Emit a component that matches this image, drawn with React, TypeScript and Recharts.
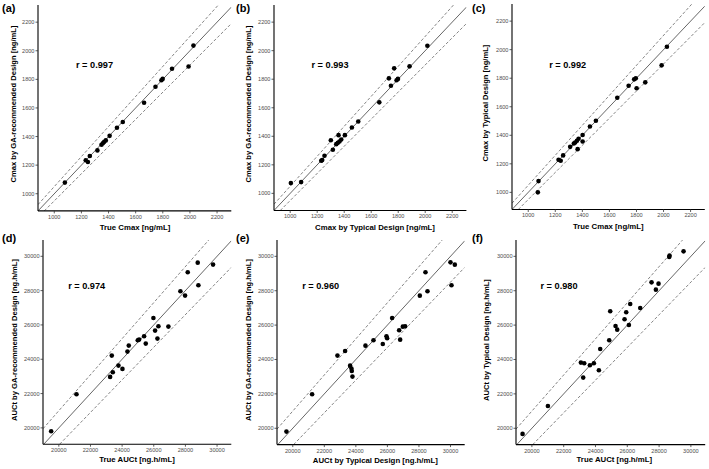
import React from 'react';
import { ScatterChart, Scatter, XAxis, YAxis, ReferenceLine } from 'recharts';

// Cmax [ng/mL]
const aTrueCmax = [1078, 1232, 1248, 1262, 1318, 1348, 1358, 1368, 1380, 1408, 1462, 1505, 1662, 1746, 1790, 1799, 1868, 1990, 2026];
const aGaCmax = [1078, 1234, 1222, 1264, 1303, 1343, 1353, 1363, 1373, 1405, 1461, 1502, 1636, 1748, 1794, 1803, 1874, 1890, 2036];

const bTypicalCmax = [1005, 1081, 1230, 1237, 1254, 1301, 1316, 1358, 1341, 1353, 1365, 1378, 1405, 1457, 1504, 1660, 1746, 1731, 1770, 1788, 1798, 1884, 2016];
const bGaCmax = [1072, 1079, 1229, 1233, 1264, 1372, 1306, 1408, 1345, 1354, 1364, 1378, 1408, 1462, 1504, 1638, 1754, 1806, 1876, 1793, 1802, 1890, 2034];

const cTrueCmax = [1076, 1071, 1224, 1240, 1258, 1310, 1337, 1347, 1360, 1372, 1365, 1402, 1402, 1456, 1500, 1658, 1742, 1783, 1795, 1801, 1865, 1986, 2025];
const cTypicalCmax = [1079, 1000, 1229, 1222, 1259, 1319, 1343, 1350, 1362, 1376, 1303, 1402, 1357, 1462, 1502, 1663, 1747, 1792, 1799, 1730, 1771, 1890, 2020];

// AUCt [ng.h/mL]
const dTrueAuc = [29747, 28779, 28147, 28821, 27684, 27979, 25979, 26295, 26084, 26926, 26232, 25389, 25074, 24989, 25495, 24421, 24337, 23347, 23768, 24021, 23411, 23242, 21116, 19516];
const dGaAuc = [29515, 29631, 29068, 28311, 27961, 27709, 26408, 25922, 25670, 25903, 25204, 25340, 25146, 25107, 24913, 24796, 24447, 24213, 23631, 23437, 23243, 22971, 21961, 19806];

const eTypicalAuc = [30000, 30275, 28414, 30063, 28541, 28055, 26300, 27125, 26977, 26744, 26808, 25941, 25983, 25708, 25116, 24609, 23319, 22833, 23636, 23721, 23742, 23784, 21226, 19598];
const eGaAuc = [29651, 29515, 29070, 28314, 27965, 27713, 26415, 25930, 25911, 25698, 25155, 25349, 25233, 24903, 25116, 24806, 24496, 24225, 23643, 23469, 23333, 23004, 21977, 19806];

const fTrueAuc = [29539, 28658, 28637, 27526, 27966, 27799, 26813, 26184, 24927, 25933, 25828, 26101, 25262, 25367, 24864, 24298, 23082, 23291, 23648, 23899, 24214, 23228, 21006, 19413];
const fTypicalAuc = [30291, 30039, 29961, 28488, 28411, 28062, 26996, 27229, 26802, 26744, 26337, 26008, 25950, 25736, 25116, 24612, 23818, 23779, 23663, 23779, 23372, 22946, 21298, 19671];

const cmaxTicks = [1000, 1200, 1400, 1600, 1800, 2000, 2200];
const aucTicks = [20000, 22000, 24000, 26000, 28000, 30000];

const cmaxX: [number, number] = [880, 2305];
const cmaxY: [number, number] = [880, 2320];
const aucX: [number, number] = [19000, 30900];
const aucY: [number, number] = [19050, 30950];

// identity and +/-5% lines
const bandFactors = [1, 1.05, 0.95];

const FONT = '"Liberation Sans", Arial, sans-serif';

const zip = (xs: number[], ys: number[]) => xs.map((x, i) => ({ x, y: ys[i] }));

const segmentFor = (k: number, dx: [number, number], dy: [number, number]) => {
  const xs = Math.max(dx[0], dy[0] / k);
  const xe = Math.min(dx[1], dy[1] / k);
  return [{ x: xs, y: k * xs }, { x: xe, y: k * xe }];
};

const Dot = (props: any) => <circle cx={props.cx} cy={props.cy} r={2.3} fill="#000" />;

type PanelProps = {
  box: { l: number; t: number; w: number; h: number };
  dx: [number, number];
  dy: [number, number];
  ticks: number[];
  data: { x: number; y: number }[];
  letter: string;
  letterPos: [number, number];
  r: string;
  rPos: [number, number];
  xTitle: string;
  xTitlePos: [number, number];
  yTitle: string;
  yTitlePos: [number, number];
};

const YW = 36;
const MT = 4;
const MR = 4;
const XH = 14;

const Panel = (p: PanelProps) => {
  const { box } = p;
  const tickStyle = { fontSize: 5.6, fill: '#4d4d4d', fontFamily: FONT };
  return (
    <>
      <div style={{ position: 'absolute', left: box.l - YW, top: box.t - MT }}>
        <ScatterChart
          width={YW + box.w + MR}
          height={MT + box.h + XH}
          margin={{ top: MT, right: MR, left: 0, bottom: 0 }}
        >
          <XAxis
            type="number"
            dataKey="x"
            domain={p.dx}
            allowDataOverflow
            ticks={p.ticks}
            interval={0}
            height={XH}
            tick={tickStyle}
            tickSize={2.5}
            tickMargin={1.5}
            axisLine={{ stroke: '#000', strokeWidth: 1.1 }}
            tickLine={{ stroke: '#333', strokeWidth: 0.8 }}
          />
          <YAxis
            type="number"
            dataKey="y"
            domain={p.dy}
            allowDataOverflow
            ticks={p.ticks}
            interval={0}
            width={YW}
            tick={tickStyle}
            tickSize={2.5}
            tickMargin={1}
            axisLine={{ stroke: '#000', strokeWidth: 1.1 }}
            tickLine={{ stroke: '#333', strokeWidth: 0.8 }}
          />
          {bandFactors.map((k) => (
            <ReferenceLine
              key={k}
              segment={segmentFor(k, p.dx, p.dy)}
              stroke={k === 1 ? '#555' : '#666'}
              strokeWidth={k === 1 ? 0.9 : 0.8}
              strokeDasharray={k === 1 ? undefined : '3 2'}
              ifOverflow="hidden"
            />
          ))}
          <Scatter data={p.data} shape={Dot} isAnimationActive={false} />
        </ScatterChart>
      </div>
      <div style={{ position: 'absolute', left: p.letterPos[0], top: p.letterPos[1], fontSize: 11, fontWeight: 'bold', fontFamily: FONT, lineHeight: 1 }}>
        {p.letter}
      </div>
      <div style={{ position: 'absolute', left: p.rPos[0], top: p.rPos[1], transform: 'translate(-50%, -50%)', fontSize: 9.2, fontWeight: 'bold', fontFamily: FONT, whiteSpace: 'nowrap', lineHeight: 1 }}>
        {p.r}
      </div>
      <div style={{ position: 'absolute', left: p.xTitlePos[0], top: p.xTitlePos[1], transform: 'translate(-50%, -50%)', fontSize: 7.8, fontWeight: 'bold', fontFamily: FONT, whiteSpace: 'nowrap', lineHeight: 1 }}>
        {p.xTitle}
      </div>
      <div style={{ position: 'absolute', left: p.yTitlePos[0], top: p.yTitlePos[1], transform: 'translate(-50%, -50%) rotate(-90deg)', fontSize: 7.6, fontWeight: 'bold', fontFamily: FONT, whiteSpace: 'nowrap', lineHeight: 1 }}>
        {p.yTitle}
      </div>
    </>
  );
};

export default function App() {
  return (
    <div style={{ position: 'absolute', left: 0, top: 0, width: 709, height: 469, background: '#fff', overflow: 'hidden' }}>
      <Panel
        box={{ l: 38, t: 5.3, w: 193.3, h: 205.9 }}
        dx={cmaxX}
        dy={cmaxY}
        ticks={cmaxTicks}
        data={zip(aTrueCmax, aGaCmax)}
        letter="(a)"
        letterPos={[2, 3]}
        r="r = 0.997"
        rPos={[94.5, 66]}
        xTitle="True Cmax [ng/mL]"
        xTitlePos={[135, 228]}
        yTitle="Cmax by GA-recommended Design [ng/mL]"
        yTitlePos={[14, 104]}
      />
      <Panel
        box={{ l: 273.5, t: 4.9, w: 192.4, h: 205.5 }}
        dx={cmaxX}
        dy={cmaxY}
        ticks={cmaxTicks}
        data={zip(bTypicalCmax, bGaCmax)}
        letter="(b)"
        letterPos={[236, 3]}
        r="r = 0.993"
        rPos={[330, 66]}
        xTitle="Cmax by Typical Design [ng/mL]"
        xTitlePos={[375, 228]}
        yTitle="Cmax by GA-recommended Design [ng/mL]"
        yTitlePos={[249, 104]}
      />
      <Panel
        box={{ l: 512.1, t: 3.9, w: 192.8, h: 205.5 }}
        dx={cmaxX}
        dy={cmaxY}
        ticks={cmaxTicks}
        data={zip(cTrueCmax, cTypicalCmax)}
        letter="(c)"
        letterPos={[472, 3]}
        r="r = 0.992"
        rPos={[567.7, 65.7]}
        xTitle="True Cmax [ng/mL]"
        xTitlePos={[608.3, 227]}
        yTitle="Cmax by Typical Design [ng/mL]"
        yTitlePos={[485.7, 103]}
      />
      <Panel
        box={{ l: 42.9, t: 240.4, w: 188.3, h: 204.2 }}
        dx={aucX}
        dy={aucY}
        ticks={aucTicks}
        data={zip(dTrueAuc, dGaAuc)}
        letter="(d)"
        letterPos={[2, 233]}
        r="r = 0.974"
        rPos={[86.7, 287.3]}
        xTitle="True AUCt [ng.h/mL]"
        xTitlePos={[137, 459.7]}
        yTitle="AUCt by GA-recommended Design [ng.h/mL]"
        yTitlePos={[15, 340]}
      />
      <Panel
        box={{ l: 276.5, t: 240.4, w: 187.7, h: 204.6 }}
        dx={aucX}
        dy={aucY}
        ticks={aucTicks}
        data={zip(eTypicalAuc, eGaAuc)}
        letter="(e)"
        letterPos={[236, 233]}
        r="r = 0.960"
        rPos={[320.7, 286.7]}
        xTitle="AUCt by Typical Design [ng.h/mL]"
        xTitlePos={[375.3, 460.7]}
        yTitle="AUCt by GA-recommended Design [ng.h/mL]"
        yTitlePos={[249, 340]}
      />
      <Panel
        box={{ l: 516.4, t: 240.4, w: 189.2, h: 204.6 }}
        dx={aucX}
        dy={aucY}
        ticks={aucTicks}
        data={zip(fTrueAuc, fTypicalAuc)}
        letter="(f)"
        letterPos={[472, 233]}
        r="r = 0.980"
        rPos={[559, 287.3]}
        xTitle="True AUCt [ng.h/mL]"
        xTitlePos={[614.3, 460]}
        yTitle="AUCt by Typical Design [ng.h/mL]"
        yTitlePos={[486.7, 340]}
      />
    </div>
  );
}
